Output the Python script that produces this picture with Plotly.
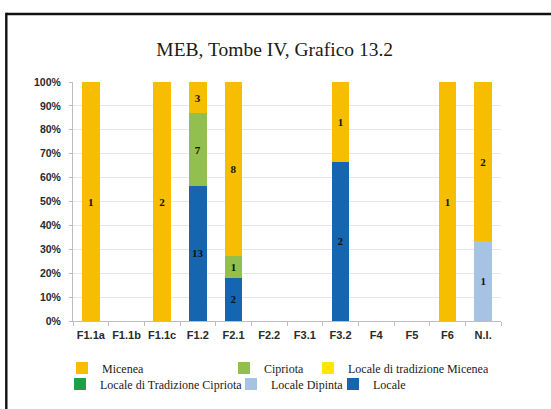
import plotly.graph_objects as go

# ---- data -------------------------------------------------------------
categories = ["F1.1a", "F1.1b", "F1.1c", "F1.2", "F2.1", "F2.2",
              "F3.1", "F3.2", "F4", "F5", "F6", "N.I."]

micenea         = [1, 0, 2, 3, 8, 0, 0, 1, 0, 0, 1, 2]
cipriota        = [0, 0, 0, 7, 1, 0, 0, 0, 0, 0, 0, 0]
locale_trad_mic = [0, 0, 0, 0, 0, 0, 0, 0, 0, 0, 0, 0]
locale_trad_cip = [0, 0, 0, 0, 0, 0, 0, 0, 0, 0, 0, 0]
locale_dipinta  = [0, 0, 0, 0, 0, 0, 0, 0, 0, 0, 0, 1]
locale          = [0, 0, 0, 13, 2, 0, 0, 2, 0, 0, 0, 0]

y_ticks = list(range(0, 101, 10))
y_tick_labels = [f"{v}%" for v in y_ticks]

# ---- page geometry (pixels) -------------------------------------------
W, H = 551, 409
ML, MR, MT, MB = 73, 50, 82, 88
PW, PH = W - ML - MR, H - MT - MB


def px_x(x):
    return (x - ML) / PW


def px_y(y):
    return (H - MB - y) / PH


SERIF = "Liberation Serif, Times New Roman, serif"
SANS = "Liberation Sans, Arial, sans-serif"

# stacking order: bottom -> top; each entry gets its own legend box
series = [
    ("Locale", locale, "#1565B0", "legend7"),
    ("Locale Dipinta", locale_dipinta, "#A7C3E4", "legend6"),
    ("Locale di Tradizione Cipriota", locale_trad_cip, "#1E9E48", "legend5"),
    ("Cipriota", cipriota, "#92BF4E", "legend3"),
    ("Locale di tradizione Micenea", locale_trad_mic, "#FFE600", "legend4"),
    ("Micenea", micenea, "#F7BD00", "legend2"),
]

fig = go.Figure()
for name, vals, color, leg in series:
    fig.add_trace(go.Bar(
        x=categories,
        y=vals,
        name=name,
        marker=dict(color=color, line=dict(width=0)),
        text=[str(v) if v else "" for v in vals],
        textposition="inside",
        insidetextanchor="middle",
        textangle=0,
        constraintext="none",
        textfont=dict(family=SERIF, size=11, color="#111111", weight="bold"),
        legend=leg,
        hoverinfo="skip",
    ))

legend_common = dict(
    orientation="h",
    xref="container", yref="container",
    xanchor="left", yanchor="middle",
    bgcolor="rgba(0,0,0,0)",
    font=dict(family=SERIF, size=12, color="#1a1a1a"),
    itemwidth=30,
)

# marker-centre positions of each legend entry
leg_pos = {
    "legend2": (82, 368),
    "legend3": (244, 368),
    "legend4": (328, 368),
    "legend5": (80, 384),
    "legend6": (251, 384),
    "legend7": (353, 384),
}
leg_layout = {"legend": dict(visible=False)}
for key, (lx, ly) in leg_pos.items():
    leg_layout[key] = dict(legend_common, x=(lx - 20) / W, y=1 - ly / H)

# frame lines (left and top)
shapes = [
    dict(type="line", xref="paper", yref="paper",
         x0=px_x(6.3), x1=px_x(W + 2), y0=px_y(14), y1=px_y(14),
         line=dict(color="#111111", width=2.4)),
    dict(type="line", xref="paper", yref="paper",
         x0=px_x(6.3), x1=px_x(6.3), y0=px_y(12.8), y1=px_y(H + 2),
         line=dict(color="#111111", width=2.4)),
]

fig.update_layout(
    width=W, height=H,
    margin=dict(l=ML, r=MR, t=MT, b=MB, pad=0),
    paper_bgcolor="white",
    plot_bgcolor="white",
    barmode="stack",
    barnorm="percent",
    bargap=0.5,
    title=dict(
        text="MEB, Tombe IV, Grafico 13.2",
        xref="container", yref="container",
        x=274.7 / W, y=1 - 49.5 / H,
        xanchor="center", yanchor="middle",
        font=dict(family=SERIF, size=19.5, color="#1a1a1a"),
    ),
    shapes=shapes,
    **leg_layout,
)

fig.update_xaxes(
    type="category",
    automargin=False,
    tickangle=0,
    showline=True, linecolor="#BDBDBD", linewidth=1,
    ticks="outside", tickson="boundaries", ticklen=4, tickcolor="#BDBDBD",
    tickfont=dict(family=SANS, size=11, color="#2a2a2a", weight="bold"),
    ticklabelstandoff=4,
    showgrid=False,
)
fig.update_yaxes(
    automargin=False,
    range=[0, 100],
    tickvals=y_ticks, ticktext=y_tick_labels,
    showline=True, linecolor="#BDBDBD", linewidth=1,
    ticks="outside", ticklen=3, tickcolor="#BDBDBD",
    showgrid=True, gridcolor="#E6E6E6", gridwidth=1,
    zeroline=False,
    tickfont=dict(family=SANS, size=10.5, color="#2a2a2a", weight="bold"),
    ticklabelstandoff=6,
)

fig.write_html("out.html")
